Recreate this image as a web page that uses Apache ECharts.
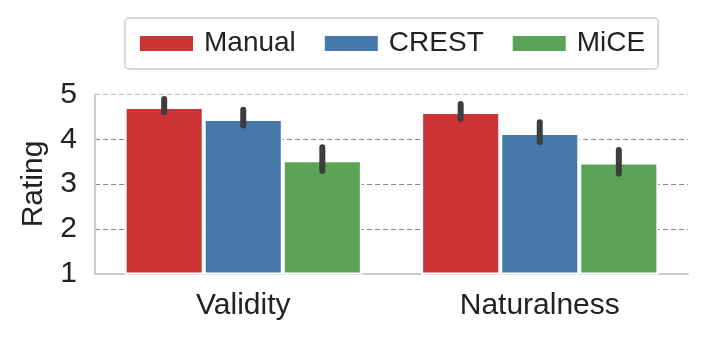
<!DOCTYPE html>
<html>
<head>
<meta charset="utf-8">
<script src="https://cdn.jsdelivr.net/npm/echarts@6/dist/echarts.min.js"></script>
<style>
  html, body { margin: 0; padding: 0; background: #fff; }
  #main { width: 707px; height: 342px; }
</style>
</head>
<body>
<div id="main"></div>
<script>
var categories = ['Validity', 'Naturalness'];
var methods = ['Manual', 'CREST', 'MiCE'];
var colors = ['#cc3335', '#4679a9', '#5ba356'];
// mean ratings
var manual = [4.72, 4.61];
var crest = [4.45, 4.14];
var mice = [3.53, 3.48];
// error bars (low, high)
var manualErr = [[4.61, 4.90], [4.46, 4.79]];
var crestErr = [[4.31, 4.66], [3.94, 4.38]];
var miceErr = [[3.29, 3.82], [3.23, 3.76]];
var yTicks = [1, 2, 3, 4, 5];

var chart = echarts.init(document.getElementById('main'));
var font = 'Liberation Sans, Arial, sans-serif';

var values = [manual, crest, mice];
var errs = [manualErr, crestErr, miceErr];

var series = [];
methods.forEach(function (m, i) {
    series.push({
        name: m,
        type: 'bar',
        data: values[i],
        barGap: '0%',
        barCategoryGap: '20%',
        itemStyle: { color: colors[i], borderColor: '#fff', borderWidth: 2 },
        z: 2
    });
});
// error bars drawn on top of the bars
methods.forEach(function (m, i) {
    series.push({
        name: m + ' err',
        type: 'custom',
        z: 5,
        data: errs[i].map(function (e, k) { return [k, e[0], e[1]]; }),
        renderItem: function (params, api) {
            var lo = api.coord([api.value(0), api.value(1)]);
            var hi = api.coord([api.value(0), api.value(2)]);
            var bw = api.size([1, 0])[0] * 0.8 / 3;
            var x = lo[0] + (i - 1) * bw;
            return {
                type: 'line',
                shape: { x1: x, y1: lo[1], x2: x, y2: hi[1] },
                style: { stroke: '#3d3d3d', lineWidth: 6, lineCap: 'round' }
            };
        }
    });
});

var option = {
    animation: false,
    textStyle: { fontFamily: font },
    legend: {
        data: methods,
        left: 125,
        top: 18,
        itemWidth: 55,
        itemHeight: 17,
        itemGap: 27,
        padding: [11.5, 13, 11.5, 13],
        borderColor: '#cccccc',
        borderWidth: 1.5,
        borderRadius: 4,
        icon: 'rect',
        textStyle: { fontSize: 28, color: '#222', fontFamily: font, padding: [0, 0, 0, 5] }
    },
    grid: { left: 95, right: 19, top: 94.5, bottom: 68.5 },
    xAxis: {
        type: 'category',
        data: categories,
        axisLine: { lineStyle: { color: '#cccccc', width: 2 } },
        axisTick: { show: false },
        axisLabel: { fontSize: 30, color: '#222', margin: 17, fontFamily: font }
    },
    yAxis: {
        type: 'value',
        min: yTicks[0],
        max: yTicks[yTicks.length - 1],
        interval: 1,
        name: 'Rating',
        nameLocation: 'middle',
        nameGap: 46,
        nameTextStyle: { fontSize: 30, color: '#222', fontFamily: font },
        axisLine: { show: true, lineStyle: { color: '#cccccc', width: 2 } },
        axisTick: { show: false },
        axisLabel: { fontSize: 30, color: '#222', margin: 18, fontFamily: font },
        splitLine: {
            show: true,
            lineStyle: { color: ['#cccccc', '#888888', '#888888', '#888888', '#bbbbbb'], type: [5, 3], width: 1.2 }
        }
    },
    series: series
};

chart.setOption(option);
</script>
</body>
</html>
